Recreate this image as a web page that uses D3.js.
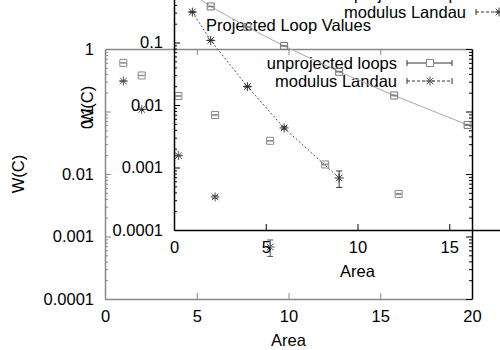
<!DOCTYPE html>
<html>
<head>
<meta charset="utf-8">
<script src="https://cdn.jsdelivr.net/npm/d3@7"></script>
<style>
body { margin: 0; background: #fff; }
svg text { font-family: "Liberation Sans", Arial, sans-serif; font-size: 16.5px; fill: #000; }
</style>
</head>
<body>
<div id="chart"></div>
<script>
// wilson loop values against loop area
var areas = [1, 2, 4, 6, 9, 12, 16];
var unprojected = [0.60, 0.377, 0.177, 0.088, 0.034, 0.0142, 0.0048];
var unprojectedErr = [0.004, 0.003, 0.0015, 0.0008, 0.0004, 0.0002, 0.0001];

var landauAreas = [1, 2, 4, 6, 9];
var landau = [0.307, 0.108, 0.0197, 0.0043, 0.00068];
var landauErr = [0.002, 0.001, 0.0004, 0.0002, 0.0002];

var xTicks = [0, 5, 10, 15, 20];
var yTicks = [0.0001, 0.001, 0.01, 0.1, 1];
var seriesNames = ["unprojected loops", "modulus Landau"];

var svg = d3.select("#chart")
	.append("svg")
	.attr("width", 500)
	.attr("height", 350);

var starPath = "M-4.5,0H4.5M0,-4.5V4.5M-3.3,-3.3L3.3,3.3M-3.3,3.3L3.3,-3.3";
var squarePath = d3.symbol().type(d3.symbolSquare).size(49)();

var Plot = function(opts) {
	this.opts = opts;
	this.g = svg.append("g");
	this.x = d3.scaleLinear().domain([0, 20]).range([opts.left, opts.left + 367]);
	this.y = d3.scaleLog().domain([1e-4, 1]).range([opts.bottom, opts.bottom - 250]);

	this.makeClip();
	this.makeAxes();
	this.makeLabels();
	this.makeSeries(areas, unprojected, unprojectedErr, squarePath, opts.sqColor, opts.sqLine);
	this.makeSeries(landauAreas, landau, landauErr, starPath, opts.starColor, opts.starLine);
	this.makeLegend();
}

Plot.prototype.makeClip = function() {
	var x = this.x, y = this.y;
	this.clipId = "clip" + this.opts.name;
	svg.append("clipPath").attr("id", this.clipId)
		.append("rect")
		.attr("x", x.range()[0] - 5).attr("y", y.range()[1] - 5)
		.attr("width", x.range()[1] - x.range()[0] + 10)
		.attr("height", y.range()[0] - y.range()[1] + 10);
}

Plot.prototype.minorY = function() {
	return this.y.ticks().filter(function(d) { return yTicks.indexOf(d) < 0; });
}

Plot.prototype.axis = function(gen, at, color, major, minor, fmt, pad) {
	var g = this.g.append("g").attr("transform", at);
	g.call(gen(major).tickValues(this.ticks).tickSizeInner(-6).tickSizeOuter(0)
		.tickPadding(pad).tickFormat(fmt));
	if (minor) {
		g.append("g").call(gen(major).tickValues(minor).tickSizeInner(-3).tickSizeOuter(0).tickFormat(""))
			.select(".domain").remove();
	}
	g.selectAll("path.domain").attr("stroke", color).attr("stroke-width", 1.5);
	g.selectAll("line").attr("stroke", color);
	g.selectAll("text").attr("fill", "#000").attr("font-size", 16)
		.attr("font-family", "Liberation Sans, Arial, sans-serif");
	return g;
}

Plot.prototype.makeAxes = function() {
	var x = this.x, y = this.y, o = this.opts;
	var x0 = x.range()[0], x1 = x.range()[1], y0 = y.range()[0], y1 = y.range()[1];
	var none = function() { return ""; };
	var skip = o.skipLabel;
	var yfmt = function(d) { return d === skip ? "" : String(d); };

	this.ticks = xTicks;
	this.axis(d3.axisBottom, "translate(0," + y0 + ")", o.axisColor, x, null, String, 11);
	this.axis(d3.axisTop, "translate(0," + y1 + ")", o.axisColor, x, null, none, 0);
	this.ticks = yTicks;
	this.axis(d3.axisLeft, "translate(" + x0 + ",0)", o.axisColor, y, this.minorY(), yfmt, 11);
	this.axis(d3.axisRight, "translate(" + x1 + ",0)", o.rightColor, y, this.minorY(), none, 0);
}

Plot.prototype.makeLabels = function() {
	var x = this.x, y = this.y, o = this.opts;
	var cx = (x.range()[0] + x.range()[1]) / 2;
	var cy = (y.range()[0] + y.range()[1]) / 2;

	this.g.append("text")
		.attr("x", cx).attr("y", y.range()[0] + 41)
		.attr("text-anchor", "middle").attr("dominant-baseline", "central")
		.text("Area");

	this.g.append("text")
		.attr("transform", "translate(" + (x.range()[0] - 87) + "," + cy + ") rotate(-90)")
		.attr("text-anchor", "middle").attr("dominant-baseline", "central")
		.text("W(C)");

	if (o.title) {
		this.g.append("text")
			.attr("x", cx).attr("y", y.range()[1] - 24)
			.attr("text-anchor", "middle").attr("dominant-baseline", "central")
			.text(o.title);
	}
	// the 0.1 label of the outer plot sits turned on its side, over the W(C)
	if (o.skipLabel) {
		this.g.append("text")
			.attr("transform", "translate(" + (x.range()[0] - 18) + "," + (y(o.skipLabel) + 6) + ") rotate(-90)")
			.attr("text-anchor", "middle").attr("dominant-baseline", "central")
			.text(String(o.skipLabel));
	}
}

Plot.prototype.makeSeries = function(xs, vals, errs, shape, color, line) {
	var x = this.x, y = this.y;
	var pts = xs.map(function(a, i) { return { a: a, v: vals[i], e: errs[i] }; });
	var g = this.g.append("g").attr("clip-path", "url(#" + this.clipId + ")");

	if (line) {
		g.append("path")
			.datum(pts)
			.attr("fill", "none")
			.attr("stroke", line.color)
			.attr("stroke-width", 1)
			.attr("stroke-dasharray", line.dash)
			.attr("d", d3.line().x(function(d) { return x(d.a); }).y(function(d) { return y(d.v); }));
	}

	var u = g.selectAll("g.pt").data(pts);
	var pt = u.enter().append("g").attr("class", "pt")
		.attr("transform", function(d) { return "translate(" + x(d.a) + "," + y(d.v) + ")"; });

	pt.append("path")
		.attr("fill", "none").attr("stroke", color).attr("stroke-width", 1)
		.attr("d", function(d) {
			var lo = y(d.v - d.e) - y(d.v), hi = y(d.v + d.e) - y(d.v);
			return "M0," + lo + "V" + hi + "M-3," + lo + "H3M-3," + hi + "H3";
		});
	pt.append("path")
		.attr("fill", "none").attr("stroke", color).attr("stroke-width", 1)
		.attr("d", shape);
}

Plot.prototype.makeLegend = function() {
	var o = this.opts;
	var right = this.x.range()[1], top = this.y.range()[1];
	var rows = [
		{ name: seriesNames[0], shape: squarePath, color: o.sqColor, dash: null },
		{ name: seriesNames[1], shape: starPath, color: o.starColor, dash: "3,2" }
	];
	var self = this;
	rows.forEach(function(r, i) {
		var ly = top + 14 + i * 18;
		var g = self.g.append("g");
		g.append("text")
			.attr("x", right - 75).attr("y", ly)
			.attr("text-anchor", "end").attr("dominant-baseline", "central")
			.text(r.name);
		g.append("path")
			.attr("fill", "none").attr("stroke", "#333").attr("stroke-width", 1)
			.attr("stroke-dasharray", r.dash)
			.attr("d", "M" + (right - 65) + "," + ly + "H" + (right - 20));
		g.append("path")
			.attr("fill", "none").attr("stroke", "#333").attr("stroke-width", 1)
			.attr("d", "M" + (right - 65) + "," + (ly - 3) + "v6M" + (right - 20) + "," + (ly - 3) + "v6");
		g.append("path")
			.attr("transform", "translate(" + (right - 42) + "," + ly + ")")
			.attr("fill", i === 0 ? "#fff" : "none").attr("stroke", r.color).attr("stroke-width", 1)
			.attr("d", r.shape);
	});
}

// outer plot, points only
var outer = new Plot({
	name: "A", left: 105, bottom: 299,
	axisColor: "#888", rightColor: "#000",
	sqColor: "#888", starColor: "#555",
	title: "Projected Loop Values", skipLabel: 0.1
});

// same plot again, shifted up and right, with lines
var inner = new Plot({
	name: "B", left: 174, bottom: 230,
	axisColor: "#000", rightColor: "#000",
	sqColor: "#777", starColor: "#333",
	sqLine: { color: "#aaa", dash: null },
	starLine: { color: "#555", dash: "2,2" }
});
</script>
</body>
</html>
